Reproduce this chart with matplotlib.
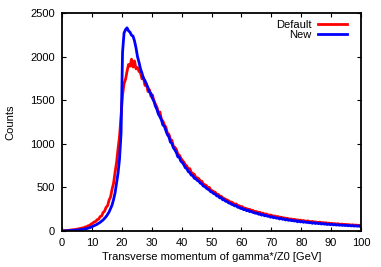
import matplotlib
matplotlib.use("Agg")
import matplotlib.pyplot as plt
import numpy as np

plt.rcParams['font.family'] = ['Liberation Sans', 'DejaVu Sans']

# 0.5 GeV bins from 0 to 100, plotted at bin centres
bin_edges = np.arange(0, 100.5, 0.5)
bin_centres = (bin_edges[:-1] + bin_edges[1:]) / 2

default_counts = [
    2, 4, 4, 7, 7, 11, 12, 15, 15, 20,
    21, 27, 29, 35, 37, 46, 49, 60, 64, 80,
    88, 104, 108, 130, 135, 165, 172, 212, 228, 272,
    290, 355, 390, 480, 548, 675, 785, 945, 1085, 1320,
    1560, 1690, 1740, 1830, 1910, 1890, 1970, 1880, 1950, 1860,
    1875, 1830, 1815, 1745, 1760, 1670, 1690, 1600, 1620, 1545,
    1560, 1490, 1455, 1420, 1350, 1365, 1280, 1260, 1215, 1190,
    1120, 1110, 1050, 1040, 970, 960, 935, 880, 870, 835,
    810, 790, 760, 745, 705, 715, 670, 660, 650, 615,
    610, 600, 570, 572, 540, 530, 522, 498, 500, 470,
    462, 450, 445, 418, 420, 400, 398, 380, 372, 362,
    355, 345, 330, 332, 318, 305, 310, 292, 290, 276,
    280, 264, 262, 255, 248, 250, 236, 238, 226, 224,
    220, 212, 214, 200, 205, 192, 196, 188, 180, 184,
    176, 170, 172, 162, 166, 155, 158, 152, 150, 146,
    145, 140, 136, 138, 130, 134, 126, 128, 122, 124,
    118, 120, 114, 112, 116, 108, 106, 110, 102, 104,
    100, 98, 102, 94, 96, 92, 95, 88, 90, 86,
    88, 82, 84, 80, 83, 78, 76, 79, 74, 76,
    72, 74, 70, 68, 71, 66, 68, 64, 66, 63,
]

new_counts = [
    1, 1, 2, 3, 4, 5, 6, 7, 9, 10,
    11, 13, 15, 18, 20, 23, 27, 33, 37, 45,
    52, 60, 69, 77, 89, 99, 113, 127, 146, 164,
    192, 218, 258, 298, 362, 438, 548, 665, 830, 1120,
    2050, 2270, 2310, 2330, 2295, 2280, 2245, 2235, 2180, 2100,
    2000, 1935, 1860, 1810, 1750, 1725, 1680, 1645, 1595, 1575,
    1520, 1490, 1430, 1395, 1340, 1310, 1275, 1215, 1200, 1150,
    1105, 1080, 1020, 1005, 955, 930, 900, 850, 845, 800,
    785, 760, 725, 715, 680, 670, 640, 635, 605, 598,
    580, 572, 548, 540, 515, 510, 492, 480, 470, 450,
    445, 428, 424, 402, 400, 380, 382, 358, 360, 340,
    338, 322, 318, 306, 300, 288, 292, 272, 275, 258,
    262, 244, 250, 232, 240, 222, 226, 215, 210, 204,
    206, 192, 196, 182, 190, 174, 180, 168, 170, 158,
    164, 152, 156, 146, 150, 138, 146, 134, 138, 126,
    134, 122, 128, 118, 122, 114, 118, 106, 114, 104,
    110, 100, 106, 98, 100, 94, 98, 88, 96, 86,
    92, 84, 88, 80, 86, 78, 82, 74, 80, 72,
    78, 70, 74, 68, 72, 66, 70, 64, 68, 62,
    66, 60, 64, 58, 62, 56, 60, 55, 58, 52,
]

fig = plt.figure(figsize=(3.81, 2.67), dpi=100)
ax = fig.add_axes([62/381, 36/267, 299/381, 218/267])

ax.plot(bin_centres, default_counts, color='#ff0000', lw=2, label='Default')
ax.plot(bin_centres, new_counts, color='#0000ff', lw=2, label='New')

ax.set_xlim(0, 100)
ax.set_ylim(0, 2500)
ax.set_xticks(np.arange(0, 101, 10))
ax.set_yticks(np.arange(0, 2501, 500))
ax.tick_params(direction='in', top=True, right=True, length=3, width=0.8,
               labelsize=8, pad=5)
for s in ax.spines.values():
    s.set_linewidth(1.3)

ax.set_xlabel("Transverse momentum of gamma*/Z0 [GeV]", fontsize=8, labelpad=3)
ax.set_ylabel("Counts", fontsize=8, labelpad=11)

ax.legend(loc='upper right', frameon=False, markerfirst=False, fontsize=8,
          handlelength=2.6, handletextpad=0.6, labelspacing=0.05,
          borderaxespad=0.2, bbox_to_anchor=(0.975, 1.0))

fig.savefig("out.png", dpi=100)
